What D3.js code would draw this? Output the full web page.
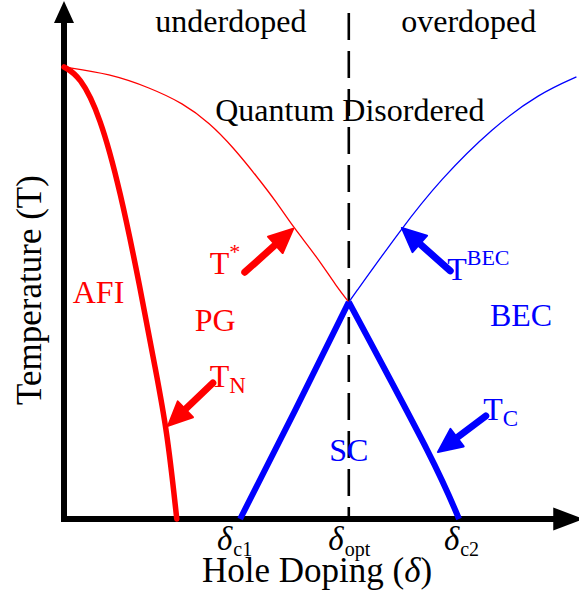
<!DOCTYPE html>
<html>
<head>
<meta charset="utf-8">
<script src="https://cdn.jsdelivr.net/npm/d3@7"></script>
<style>
  body { margin: 0; background: #fff; }
  svg { display: block; }
  text { font-family: "Liberation Serif", "Times New Roman", serif; }
</style>
</head>
<body>
<div id="chart"></div>
<script>
// doping (x) and temperature (y), both in arbitrary units 0..1
const tStarCurve = [[0, 1], [0.089, 0.985], [0.167, 0.954], [0.231, 0.920], [0.283, 0.876],
  [0.328, 0.823], [0.375, 0.757], [0.414, 0.699], [0.445, 0.646], [0.491, 0.580],
  [0.530, 0.513], [0.553, 0.480]];
const tBecCurve = [[0.553, 0.480], [0.656, 0.644], [0.730, 0.750], [0.833, 0.867],
  [0.924, 0.942], [0.995, 0.978]];
const tNCurve = [[0, 1], [0.031, 0.980], [0.070, 0.892], [0.109, 0.728], [0.148, 0.511],
  [0.177, 0.334], [0.200, 0.197], [0.219, 0]];
const scLeft = [[0.342, 0], [0.449, 0.241], [0.553, 0.480]];
const scRight = [[0.553, 0.480], [0.705, 0.153], [0.767, 0]];

const dopingTicks = [0.342, 0.553, 0.767];
const dopingTickSubs = ["c1", "opt", "c2"];
const optDoping = 0.553;

// arrows: [tailX, tailY, tipX, tipY, colour]
const arrows = [
  [0.351, 0.546, 0.445, 0.642, "#ff0000"],
  [0.289, 0.301, 0.202, 0.206, "#ff0000"],
  [0.750, 0.549, 0.656, 0.644, "#0000ff"],
  [0.819, 0.228, 0.726, 0.148, "#0000ff"]
];

// labels: [x, y, main, sup, sub, colour, anchor]
const labels = [
  [0.017, 0.478, "AFI", "", "", "#ff0000", "start"],
  [0.254, 0.416, "PG", "", "", "#ff0000", "start"],
  [0.283, 0.542, "T", "*", "", "#ff0000", "start"],
  [0.283, 0.292, "T", "", "N", "#ff0000", "start"],
  [0.744, 0.529, "T", "BEC", "", "#0000ff", "start"],
  [0.827, 0.427, "BEC", "", "", "#0000ff", "start"],
  [0.814, 0.219, "T", "", "C", "#0000ff", "start"],
  [0.553, 0.128, "SC", "", "", "#0000ff", "middle"],
  [0.555, 0.881, "Quantum Disordered", "", "", "#000", "middle"],
  [0.324, 1.077, "underdoped", "", "", "#000", "middle"],
  [0.786, 1.077, "overdoped", "", "", "#000", "middle"]
];

const width = 579, height = 594;

const svg = d3.select("#chart")
  .append("svg")
  .attr("width", width)
  .attr("height", height);

const x = d3.scaleLinear().domain([0, 1]).range([64, 579]);
const y = d3.scaleLinear().domain([0, 1]).range([519, 67]);

const smooth = d3.line()
  .x(d => x(d[0]))
  .y(d => y(d[1]))
  .curve(d3.curveBasis);
const dome = d3.line()
  .x(d => x(d[0]))
  .y(d => y(d[1]))
  .curve(d3.curveNatural);

// dashed line at optimal doping
svg.append("line")
  .attr("x1", x(optDoping)).attr("x2", x(optDoping))
  .attr("y1", 13).attr("y2", y(0))
  .attr("stroke", "#000")
  .attr("stroke-width", 2.6)
  .attr("stroke-dasharray", "27,11");

// x axis
const tickShift = [-6, 0, 2];
const xAxis = svg.append("g")
  .attr("transform", `translate(0,${y(0)})`)
  .call(d3.axisBottom(x).tickValues(dopingTicks).tickSize(0).tickSizeOuter(0).tickFormat(""));
xAxis.select(".domain").attr("stroke", "#000").attr("stroke-width", 6)
  .attr("d", `M${x(0) - 3},0H${x(0.97)}`);
xAxis.selectAll(".tick text").each(function(d, i) {
  const t = d3.select(this)
    .attr("x", tickShift[i])
    .attr("y", 31).attr("dy", 0)
    .attr("fill", "#000")
    .attr("font-family", "Liberation Serif")
    .attr("font-size", 33);
  t.append("tspan").attr("font-style", "italic").text("δ");
  t.append("tspan").attr("font-size", 20).attr("dx", 1).attr("dy", 6).text(dopingTickSubs[i]);
});
svg.append("path")
  .attr("d", `M${x(0.95)},${y(0) - 11.5}L${x(1) + 5},${y(0)}L${x(0.95)},${y(0) + 11.5}Z`)
  .attr("fill", "#000");

// y axis
svg.append("line")
  .attr("x1", x(0)).attr("x2", x(0))
  .attr("y1", y(0) + 3).attr("y2", 15)
  .attr("stroke", "#000")
  .attr("stroke-width", 6);
svg.append("path")
  .attr("d", `M${x(0) - 10},23L${x(0)},1L${x(0) + 10},23Z`)
  .attr("fill", "#000");

// curves
svg.append("path").datum(tStarCurve).attr("d", smooth)
  .attr("fill", "none").attr("stroke", "#ff0000").attr("stroke-width", 1.3);
svg.append("path").datum(tBecCurve).attr("d", smooth)
  .attr("fill", "none").attr("stroke", "#0000ff").attr("stroke-width", 1.3);
svg.append("path").datum(tNCurve).attr("d", smooth)
  .attr("fill", "none").attr("stroke", "#ff0000").attr("stroke-width", 5.5)
  .attr("stroke-linecap", "round");
[scLeft, scRight].forEach(c => {
  svg.append("path").datum(c).attr("d", dome)
    .attr("fill", "none").attr("stroke", "#0000ff").attr("stroke-width", 6)
    .attr("stroke-linejoin", "round");
});

// arrows
arrows.forEach(a => {
  const x0 = x(a[0]), y0 = y(a[1]), x1 = x(a[2]), y1 = y(a[3]);
  const len = Math.hypot(x1 - x0, y1 - y0);
  const ux = (x1 - x0) / len, uy = (y1 - y0) / len;
  const hl = 24, hw = 11;
  const bx = x1 - ux * hl, by = y1 - uy * hl;
  svg.append("line")
    .attr("x1", x0).attr("y1", y0).attr("x2", bx + ux * 4).attr("y2", by + uy * 4)
    .attr("stroke", a[4]).attr("stroke-width", 7).attr("stroke-linecap", "round");
  svg.append("path")
    .attr("d", `M${x1},${y1}L${bx - uy * hw},${by + ux * hw}L${bx + uy * hw},${by - ux * hw}Z`)
    .attr("fill", a[4]).attr("stroke", a[4]).attr("stroke-width", 2).attr("stroke-linejoin", "round");
});

// labels
labels.forEach(l => {
  const t = svg.append("text")
    .attr("x", x(l[0])).attr("y", y(l[1]))
    .attr("fill", l[5])
    .attr("text-anchor", l[6])
    .attr("font-size", 32);
  t.append("tspan").text(l[2]);
  if (l[3]) t.append("tspan").attr("font-size", l[3] === "*" ? 22 : 22).attr("dy", -15).text(l[3]);
  if (l[4]) t.append("tspan").attr("font-size", 23).attr("dy", 6).text(l[4]);
});

// axis titles
svg.append("text")
  .attr("transform", "rotate(-90)")
  .attr("x", -290)
  .attr("y", 41)
  .attr("text-anchor", "middle")
  .attr("font-size", 35)
  .text("Temperature (T)");

const xt = svg.append("text")
  .attr("x", 317)
  .attr("y", 582)
  .attr("text-anchor", "middle")
  .attr("font-size", 35);
xt.append("tspan").text("Hole Doping (");
xt.append("tspan").attr("font-style", "italic").text("δ");
xt.append("tspan").text(")");
</script>
</body>
</html>
